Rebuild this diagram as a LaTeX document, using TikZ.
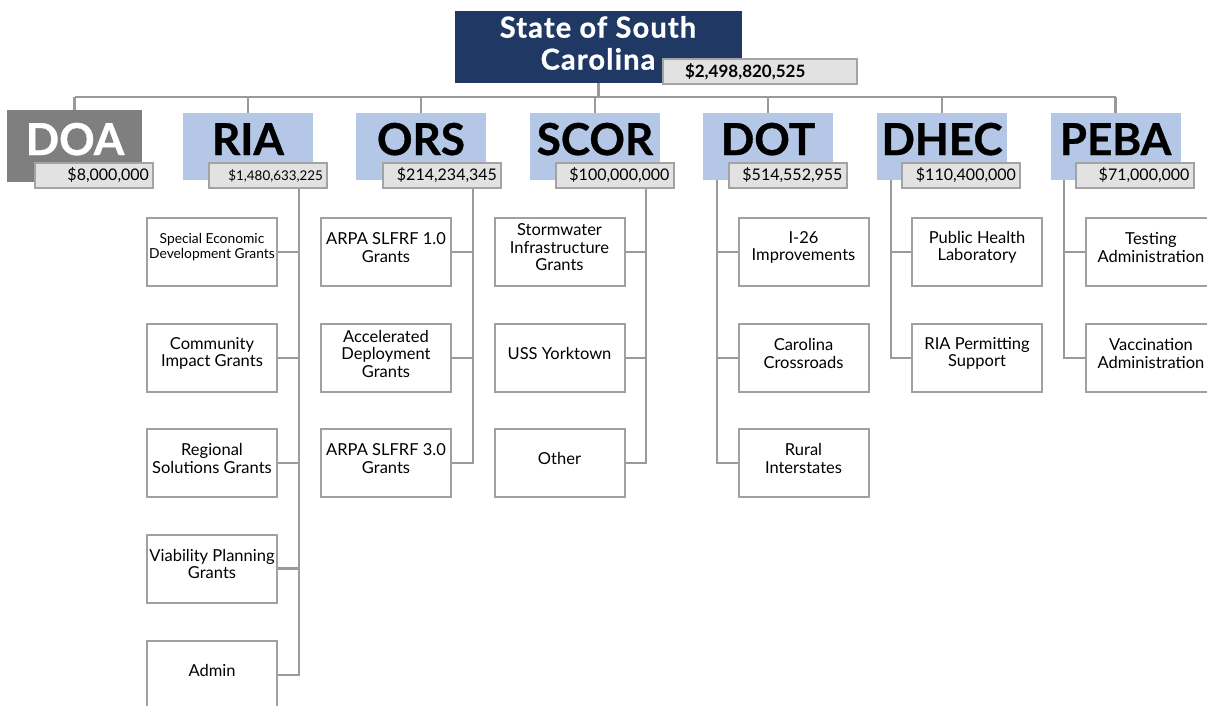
\documentclass[tikz,border=0pt]{standalone}
\usepackage{fontspec}
\setmainfont{Lato}
\newfontfamily\heavy{Lato}[BoldFeatures={FakeBold=0.8}]
\definecolor{navy}{HTML}{1F3864}
\definecolor{lblue}{HTML}{B4C7E7}
\definecolor{doagray}{HTML}{7F7F7F}
\definecolor{amtfill}{HTML}{E2E2E2}
\definecolor{amtline}{HTML}{A3A3A3}
\definecolor{lnc}{HTML}{9A9A9A}
\definecolor{boxline}{HTML}{A0A0A0}
\tikzset{
  conn/.style={draw=lnc, line width=2.6pt},
  hdrbox/.style={fill=lblue, minimum width=130, minimum height=67, inner sep=0},
  hdrtext/.style={anchor=base, inner sep=0, font=\heavy\bfseries\fontsize{44}{46}\selectfont},
  amtbox/.style={fill=amtfill, draw=amtline, line width=2pt, minimum height=25, inner xsep=4pt, inner ysep=0, text width=110pt, align=right, font=\fontsize{16}{18}\selectfont},
  childbox/.style={fill=white, draw=boxline, line width=2pt, minimum width=130, minimum height=68, inner sep=0},
  kidtext/.style={inner sep=0, align=center, font=\fontsize{16.5}{17.5}\selectfont},
}
\newcommand\kid[4][]{%
  \node[childbox] (#2) at (#3) {};
  \node[kidtext,#1] (#2t) at ([yshift=4.5pt]#2.center) {#4};}
\begin{document}
\begin{tikzpicture}[x=1pt,y=-1pt]
\useasboundingbox (0,0) rectangle (1207,705);
\clip (0,0) rectangle (1207,705);

% top
\node[fill=navy, minimum width=287, minimum height=72, inner sep=0] (top) at (598.5,47) {};
\node[text=white, inner sep=0, align=center, font=\heavy\bfseries\fontsize{29}{32}\selectfont\addfontfeature{LetterSpace=4}] (toptext) at (598,43) {State of South\\Carolina};
\node[fill=amtfill, draw=amtline, line width=2pt, minimum height=25, inner xsep=4pt, inner ysep=0, text width=186pt, align=left, font=\bfseries\fontsize{17}{18}\selectfont] (topamt) at (760,71.5) {\hspace*{18pt}\$2,498,820,525};

\coordinate (bus) at (598,97);

% headers
\node[hdrbox, fill=doagray, minimum width=135, minimum height=72] (doa) at (74.5,146) {};
\node[hdrbox] (ria) at (248,146.5) {};
\node[hdrbox] (ors) at (421,146.5) {};
\node[hdrbox] (scor) at (595,146.5) {};
\node[hdrbox] (dot) at (768,146.5) {};
\node[hdrbox] (dhec) at (942,146.5) {};
\node[hdrbox] (peba) at (1115.5,146.5) {};

\node[hdrtext, text=white] (doat) at (75,155) {DOA};
\node[hdrtext] (riat) at (248,155) {RIA};
\node[hdrtext] (orst) at (421,155) {ORS};
\node[hdrtext] (scort) at (595,155) {SCOR};
\node[hdrtext] (dott) at (768,155) {DOT};
\node[hdrtext] (dhect) at (942,155) {DHEC};
\node[hdrtext] (pebat) at (1115.5,155) {PEBA};

% bus connectors
\draw[conn] (top.south) -- (top.south |- bus);
\draw[conn] (doa.north |- bus) -- (peba.north |- bus);
\foreach \h in {doa,ria,ors,scor,dot,dhec,peba}
  \draw[conn] (\h.north) -- (\h.north |- bus);

% spines
\coordinate (riaS) at (299,188);
\coordinate (orsS) at (473,188);
\coordinate (scorS) at (646,188);
\coordinate (dotS) at (717,180);
\coordinate (dhecS) at (891,180);
\coordinate (pebaS) at (1064,180);

% child boxes
\kid[font=\fontsize{13.8}{15}\selectfont]{ria1}{212,252}{Special Economic\\Development Grants}
\kid{ria2}{212,358}{Community\\Impact Grants}
\kid{ria3}{212,463}{Regional\\Solutions Grants}
\kid{ria4}{212,568.5}{Viability Planning\\Grants}
\kid{ria5}{212,675}{Admin}

\kid{ors1}{386,252}{ARPA SLFRF 1.0\\Grants}
\kid{ors2}{386,358}{Accelerated\\Deployment\\Grants}
\kid{ors3}{386,463}{ARPA SLFRF 3.0\\Grants}

\kid{scor1}{559.5,252}{Stormwater\\Infrastructure\\Grants}
\kid{scor2}{559.5,358}{USS Yorktown}
\kid{scor3}{559.5,463}{Other}

\kid{dot1}{803.5,252}{I-26\\Improvements}
\kid{dot2}{803.5,358}{Carolina\\Crossroads}
\kid{dot3}{803.5,463}{Rural\\Interstates}

\kid{dhec1}{977,252}{Public Health\\Laboratory}
\kid{dhec2}{977,358}{RIA Permitting\\Support}

\kid{peba1}{1151,252}{Testing\\Administration}
\kid{peba2}{1151,358}{Vaccination\\Administration}

% connectors to children
\draw[conn] (riaS) |- (ria5.east);
\foreach \c in {ria1,ria2,ria3,ria4} \draw[conn] (\c.east) -- (\c.east -| riaS);
\draw[conn] (orsS) |- (ors3.east);
\foreach \c in {ors1,ors2} \draw[conn] (\c.east) -- (\c.east -| orsS);
\draw[conn] (scorS) |- (scor3.east);
\foreach \c in {scor1,scor2} \draw[conn] (\c.east) -- (\c.east -| scorS);
\draw[conn] (dotS) |- (dot3.west);
\foreach \c in {dot1,dot2} \draw[conn] (\c.west) -- (\c.west -| dotS);
\draw[conn] (dhecS) |- (dhec2.west);
\draw[conn] (dhec1.west) -- (dhec1.west -| dhecS);
\draw[conn] (pebaS) |- (peba2.west);
\draw[conn] (peba1.west) -- (peba1.west -| pebaS);

% amount boxes
\node[amtbox] (doaamt) at (94,175.5) {\$8,000,000};
\node[amtbox, font=\fontsize{13.4}{14}\selectfont] (riaamt) at (268,175.5) {\$1,480,633,225};
\node[amtbox] (orsamt) at (442,175.5) {\$214,234,345};
\node[amtbox] (scoramt) at (614.5,175.5) {\$100,000,000};
\node[amtbox] (dotamt) at (787.5,175.5) {\$514,552,955};
\node[amtbox] (dhecamt) at (961,175.5) {\$110,400,000};
\node[amtbox] (pebaamt) at (1134.5,175.5) {\$71,000,000};
\end{tikzpicture}
\end{document}
